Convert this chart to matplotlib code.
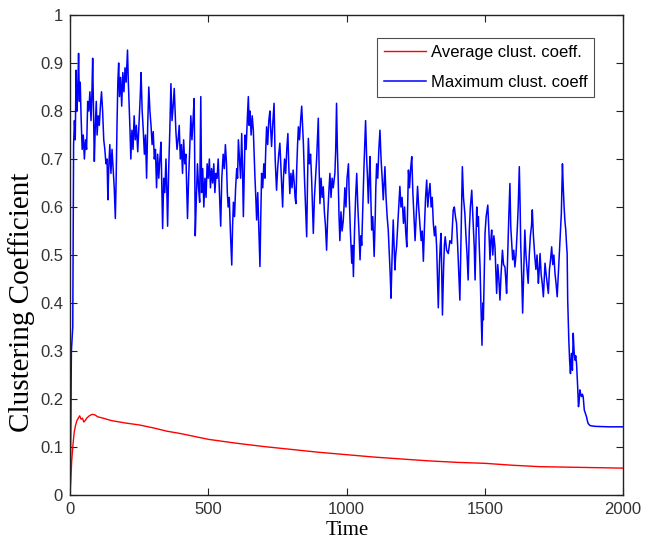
import matplotlib
matplotlib.use("Agg")
import matplotlib.pyplot as plt

# ---------------- data ----------------
avg_t = [0, 3, 6, 10, 15, 20, 25, 30, 35, 40, 45, 50, 55, 60, 70, 80, 90, 100,
         120, 150, 200, 250, 300, 350, 400, 450, 500, 600, 700, 800, 900, 1000,
         1100, 1200, 1300, 1400, 1500, 1600, 1700, 1800, 1900, 2000]
avg_v = [0.0, 0.03, 0.07, 0.10, 0.13, 0.145, 0.155, 0.16, 0.165, 0.158, 0.16,
         0.152, 0.155, 0.16, 0.165, 0.168, 0.167, 0.163, 0.16, 0.155, 0.15,
         0.146, 0.14, 0.133, 0.128, 0.122, 0.116, 0.108, 0.101, 0.095, 0.089,
         0.084, 0.079, 0.075, 0.071, 0.068, 0.066, 0.062, 0.059, 0.058, 0.057,
         0.056]

max_t = [0, 3, 5, 10, 13, 16, 19, 22, 25, 28, 31, 34, 37, 40, 44, 48, 52, 56,
         60, 64, 68, 72, 76, 79, 82, 85, 88, 91, 95, 98, 102, 106, 110, 114, 118,
         122, 126, 130, 134, 137, 140, 144, 148, 152, 156, 160, 164, 167, 170,
         173, 176, 179, 183, 187, 191, 195, 199, 203, 208, 211, 214, 217, 220,
         224, 228, 232, 236, 240, 245, 250, 254, 257, 261, 265, 269, 273, 277,
         281, 285, 289, 293, 297, 301, 305, 309, 313, 317, 321, 325, 329, 333,
         335, 339, 343, 347, 350, 353, 357, 361, 365, 369, 373, 377, 380, 383,
         387, 391, 395, 399, 403, 407, 411, 415, 419, 422, 425, 429, 433, 437,
         441, 445, 449, 451, 453, 457, 461, 465, 469, 473, 476, 480, 484, 488,
         492, 496, 500, 504, 508, 512, 516, 520, 524, 528, 532, 536, 540, 545,
         549, 554, 558, 562, 566, 569, 572, 576, 580, 585, 588, 591, 595, 599,
         603, 606, 609, 613, 617, 621, 624, 627, 630, 633, 637, 641, 645, 648,
         651, 655, 659, 663, 666, 669, 672, 675, 679, 683, 687, 690, 693, 697,
         701, 705, 708, 711, 715, 719, 723, 726, 729, 733, 738, 742, 747, 751,
         755, 759, 763, 766, 769, 772, 776, 780, 784, 788, 791, 795, 799, 803,
         807, 811, 814, 817, 820, 823, 826, 830, 834, 838, 841, 844, 848, 852,
         856, 859, 862, 866, 870, 874, 877, 880, 884, 888, 892, 895, 898, 901,
         904, 908, 912, 916, 920, 924, 928, 932, 936, 940, 944, 948, 952, 958,
         961, 964, 967, 970, 973, 976, 980, 984, 988, 991, 994, 998, 1002, 1007,
         1010, 1014, 1019, 1022, 1025, 1029, 1033, 1037, 1041, 1045, 1049, 1052,
         1055, 1059, 1063, 1066, 1069, 1073, 1076, 1079, 1082, 1085, 1088, 1091,
         1095, 1100, 1104, 1106, 1109, 1113, 1117, 1121, 1125, 1129, 1133, 1136,
         1139, 1143, 1147, 1151, 1155, 1158, 1161, 1165, 1169, 1172, 1175, 1178,
         1181, 1185, 1189, 1193, 1197, 1201, 1206, 1210, 1214, 1218, 1221, 1224,
         1228, 1232, 1236, 1240, 1244, 1248, 1252, 1257, 1261, 1266, 1270, 1274,
         1278, 1282, 1286, 1290, 1294, 1298, 1302, 1306, 1310, 1314, 1318, 1322,
         1326, 1329, 1332, 1336, 1339, 1342, 1345, 1347, 1351, 1354, 1357, 1362,
         1368, 1374, 1380, 1383, 1386, 1390, 1394, 1398, 1402, 1406, 1410, 1413,
         1416, 1419, 1423, 1428, 1432, 1436, 1440, 1444, 1448, 1453, 1457, 1462,
         1465, 1468, 1471, 1474, 1477, 1480, 1483, 1486, 1490, 1493, 1495, 1498,
         1501, 1505, 1511, 1515, 1519, 1522, 1525, 1529, 1533, 1537, 1540, 1543,
         1547, 1551, 1555, 1559, 1564, 1568, 1573, 1576, 1579, 1583, 1587, 1591,
         1594, 1598, 1601, 1605, 1609, 1613, 1618, 1621, 1625, 1628, 1630, 1634,
         1637, 1641, 1645, 1649, 1653, 1657, 1661, 1665, 1669, 1672, 1676, 1681,
         1685, 1689, 1694, 1697, 1700, 1704, 1708, 1712, 1715, 1718, 1722, 1726,
         1730, 1734, 1738, 1742, 1746, 1750, 1754, 1758, 1762, 1766, 1771, 1774,
         1777, 1779, 1781, 1784, 1787, 1790, 1793, 1796, 1798, 1800, 1802, 1804,
         1807, 1810, 1812, 1814, 1817, 1820, 1823, 1826, 1829, 1832, 1834, 1836,
         1839, 1842, 1844, 1847, 1850, 1853, 1856, 1860, 1864, 1868, 1871, 1874,
         1880, 1886, 1900, 1950, 2000]
max_v = [0.0, 0.15, 0.30, 0.35, 0.73, 0.78, 0.74, 0.885, 0.80, 0.84, 0.92, 0.82,
         0.86, 0.79, 0.72, 0.75, 0.70, 0.74, 0.72, 0.82, 0.80, 0.84, 0.78, 0.83,
         0.91, 0.80, 0.695, 0.76, 0.82, 0.75, 0.79, 0.77, 0.81, 0.84, 0.80, 0.74,
         0.72, 0.69, 0.70, 0.615, 0.68, 0.73, 0.67, 0.72, 0.68, 0.64, 0.576,
         0.66, 0.77, 0.86, 0.90, 0.83, 0.87, 0.81, 0.88, 0.84, 0.89, 0.86, 0.927,
         0.86, 0.81, 0.76, 0.70, 0.76, 0.72, 0.79, 0.74, 0.77, 0.715, 0.78, 0.83,
         0.88, 0.80, 0.76, 0.71, 0.75, 0.66, 0.77, 0.85, 0.80, 0.77, 0.73, 0.757,
         0.70, 0.72, 0.64, 0.71, 0.66, 0.70, 0.735, 0.62, 0.555, 0.66, 0.63,
         0.70, 0.64, 0.56, 0.68, 0.76, 0.857, 0.78, 0.81, 0.847, 0.80, 0.757,
         0.72, 0.74, 0.77, 0.70, 0.73, 0.67, 0.74, 0.69, 0.71, 0.64, 0.576, 0.66,
         0.72, 0.79, 0.74, 0.78, 0.826, 0.70, 0.54, 0.62, 0.69, 0.64, 0.61, 0.83,
         0.63, 0.68, 0.60, 0.66, 0.62, 0.69, 0.66, 0.70, 0.64, 0.68, 0.65, 0.69,
         0.63, 0.67, 0.66, 0.70, 0.64, 0.56, 0.66, 0.71, 0.68, 0.73, 0.69, 0.63,
         0.60, 0.62, 0.55, 0.479, 0.56, 0.61, 0.58, 0.64, 0.68, 0.66, 0.74, 0.70,
         0.66, 0.753, 0.68, 0.58, 0.66, 0.75, 0.72, 0.78, 0.83, 0.77, 0.80, 0.75,
         0.79, 0.76, 0.71, 0.66, 0.62, 0.573, 0.63, 0.55, 0.476, 0.58, 0.67,
         0.64, 0.69, 0.66, 0.72, 0.767, 0.73, 0.78, 0.80, 0.76, 0.726, 0.77,
         0.816, 0.70, 0.635, 0.68, 0.71, 0.733, 0.68, 0.64, 0.60, 0.66, 0.70,
         0.67, 0.72, 0.753, 0.69, 0.628, 0.67, 0.64, 0.677, 0.65, 0.62, 0.607,
         0.68, 0.73, 0.767, 0.74, 0.78, 0.81, 0.77, 0.733, 0.66, 0.60, 0.538,
         0.65, 0.743, 0.69, 0.71, 0.656, 0.60, 0.545, 0.62, 0.66, 0.70, 0.74,
         0.785, 0.68, 0.607, 0.66, 0.62, 0.642, 0.59, 0.56, 0.51, 0.58, 0.63,
         0.67, 0.62, 0.66, 0.64, 0.67, 0.72, 0.816, 0.72, 0.657, 0.58, 0.53,
         0.59, 0.55, 0.57, 0.60, 0.64, 0.60, 0.66, 0.69, 0.62, 0.55, 0.483, 0.52,
         0.455, 0.55, 0.62, 0.67, 0.60, 0.55, 0.49, 0.54, 0.52, 0.60, 0.68, 0.73,
         0.78, 0.70, 0.66, 0.608, 0.66, 0.705, 0.62, 0.552, 0.58, 0.497, 0.58,
         0.64, 0.69, 0.66, 0.72, 0.76, 0.70, 0.66, 0.615, 0.65, 0.684, 0.62,
         0.58, 0.552, 0.50, 0.46, 0.41, 0.50, 0.573, 0.52, 0.469, 0.50, 0.517,
         0.56, 0.60, 0.643, 0.60, 0.62, 0.566, 0.60, 0.55, 0.517, 0.60, 0.677,
         0.64, 0.68, 0.705, 0.63, 0.58, 0.53, 0.58, 0.643, 0.60, 0.559, 0.53,
         0.55, 0.487, 0.56, 0.62, 0.656, 0.60, 0.63, 0.649, 0.60, 0.62, 0.566,
         0.54, 0.56, 0.517, 0.45, 0.39, 0.48, 0.52, 0.545, 0.45, 0.375, 0.47,
         0.52, 0.538, 0.51, 0.503, 0.53, 0.524, 0.56, 0.594, 0.60, 0.58, 0.566,
         0.52, 0.46, 0.406, 0.50, 0.60, 0.684, 0.62, 0.587, 0.54, 0.50, 0.448,
         0.55, 0.60, 0.635, 0.58, 0.517, 0.448, 0.52, 0.60, 0.56, 0.58, 0.52,
         0.475, 0.40, 0.312, 0.40, 0.365, 0.46, 0.545, 0.58, 0.604, 0.55, 0.49,
         0.53, 0.552, 0.50, 0.54, 0.517, 0.47, 0.42, 0.48, 0.45, 0.406, 0.46,
         0.51, 0.48, 0.475, 0.45, 0.42, 0.50, 0.58, 0.649, 0.56, 0.52, 0.49,
         0.51, 0.475, 0.50, 0.559, 0.60, 0.684, 0.60, 0.524, 0.45, 0.379, 0.47,
         0.552, 0.50, 0.47, 0.441, 0.50, 0.54, 0.56, 0.594, 0.54, 0.497, 0.47,
         0.50, 0.441, 0.47, 0.503, 0.46, 0.44, 0.413, 0.45, 0.483, 0.46, 0.44,
         0.42, 0.47, 0.49, 0.517, 0.48, 0.50, 0.462, 0.44, 0.413, 0.46, 0.517,
         0.55, 0.587, 0.64, 0.69, 0.64, 0.60, 0.57, 0.552, 0.52, 0.503, 0.406,
         0.36, 0.323, 0.28, 0.253, 0.28, 0.295, 0.26, 0.337, 0.30, 0.281, 0.29,
         0.274, 0.25, 0.226, 0.184, 0.20, 0.219, 0.21, 0.205, 0.21, 0.205, 0.177,
         0.17, 0.163, 0.155, 0.149, 0.145, 0.144, 0.143, 0.142, 0.142]

x_ticks = [0, 500, 1000, 1500, 2000]
y_ticks = [0, 0.1, 0.2, 0.3, 0.4, 0.5, 0.6, 0.7, 0.8, 0.9, 1.0]
y_tick_labels = ["0", "0.1", "0.2", "0.3", "0.4", "0.5", "0.6", "0.7", "0.8", "0.9", "1"]
series_labels = ["Average clust. coeff.", "Maximum clust. coeff"]

# ---------------- figure ----------------
plt.rcParams["font.family"] = ["Liberation Sans", "DejaVu Sans"]

fig = plt.figure(figsize=(6.53, 5.41), dpi=100)
ax = fig.add_axes([70 / 653, 1 - 495 / 541, 553 / 653, 480 / 541])

ax.plot(avg_t, avg_v, color="#ff0000", lw=1.0, label=series_labels[0])
ax.plot(max_t, max_v, color="#0000ff", lw=1.1, label=series_labels[1])

ax.set_xlim(0, 2000)
ax.set_ylim(0, 1)
ax.set_xticks(x_ticks)
ax.set_xticklabels([str(t) for t in x_ticks])
ax.set_yticks(y_ticks)
ax.set_yticklabels(y_tick_labels)

ax.tick_params(direction="in", length=5, width=0.8, top=True, right=True,
               labelsize=12, labelcolor="#333333", color="#222222", pad=5)
for s in ax.spines.values():
    s.set_linewidth(1.0)
    s.set_color("#222222")

ax.text(0.501, -0.074, "Time", transform=ax.transAxes, ha="center",
        va="center", fontsize=15, family=["Liberation Serif", "DejaVu Serif"])
ax.text(-0.087, 0.402, "Clustering Coefficient", transform=ax.transAxes,
        ha="center", va="center", rotation=90, fontsize=21,
        family=["Liberation Serif", "DejaVu Serif"])

leg = ax.legend(loc="upper left", bbox_to_anchor=(0.555, 0.952),
                borderaxespad=0, fontsize=12, frameon=True, fancybox=False,
                handlelength=2.5, handletextpad=0.3, labelspacing=0.9,
                borderpad=0.42)
leg.get_frame().set_edgecolor("#222222")
leg.get_frame().set_linewidth(0.8)

fig.savefig("out.png", dpi=100, facecolor="white")
